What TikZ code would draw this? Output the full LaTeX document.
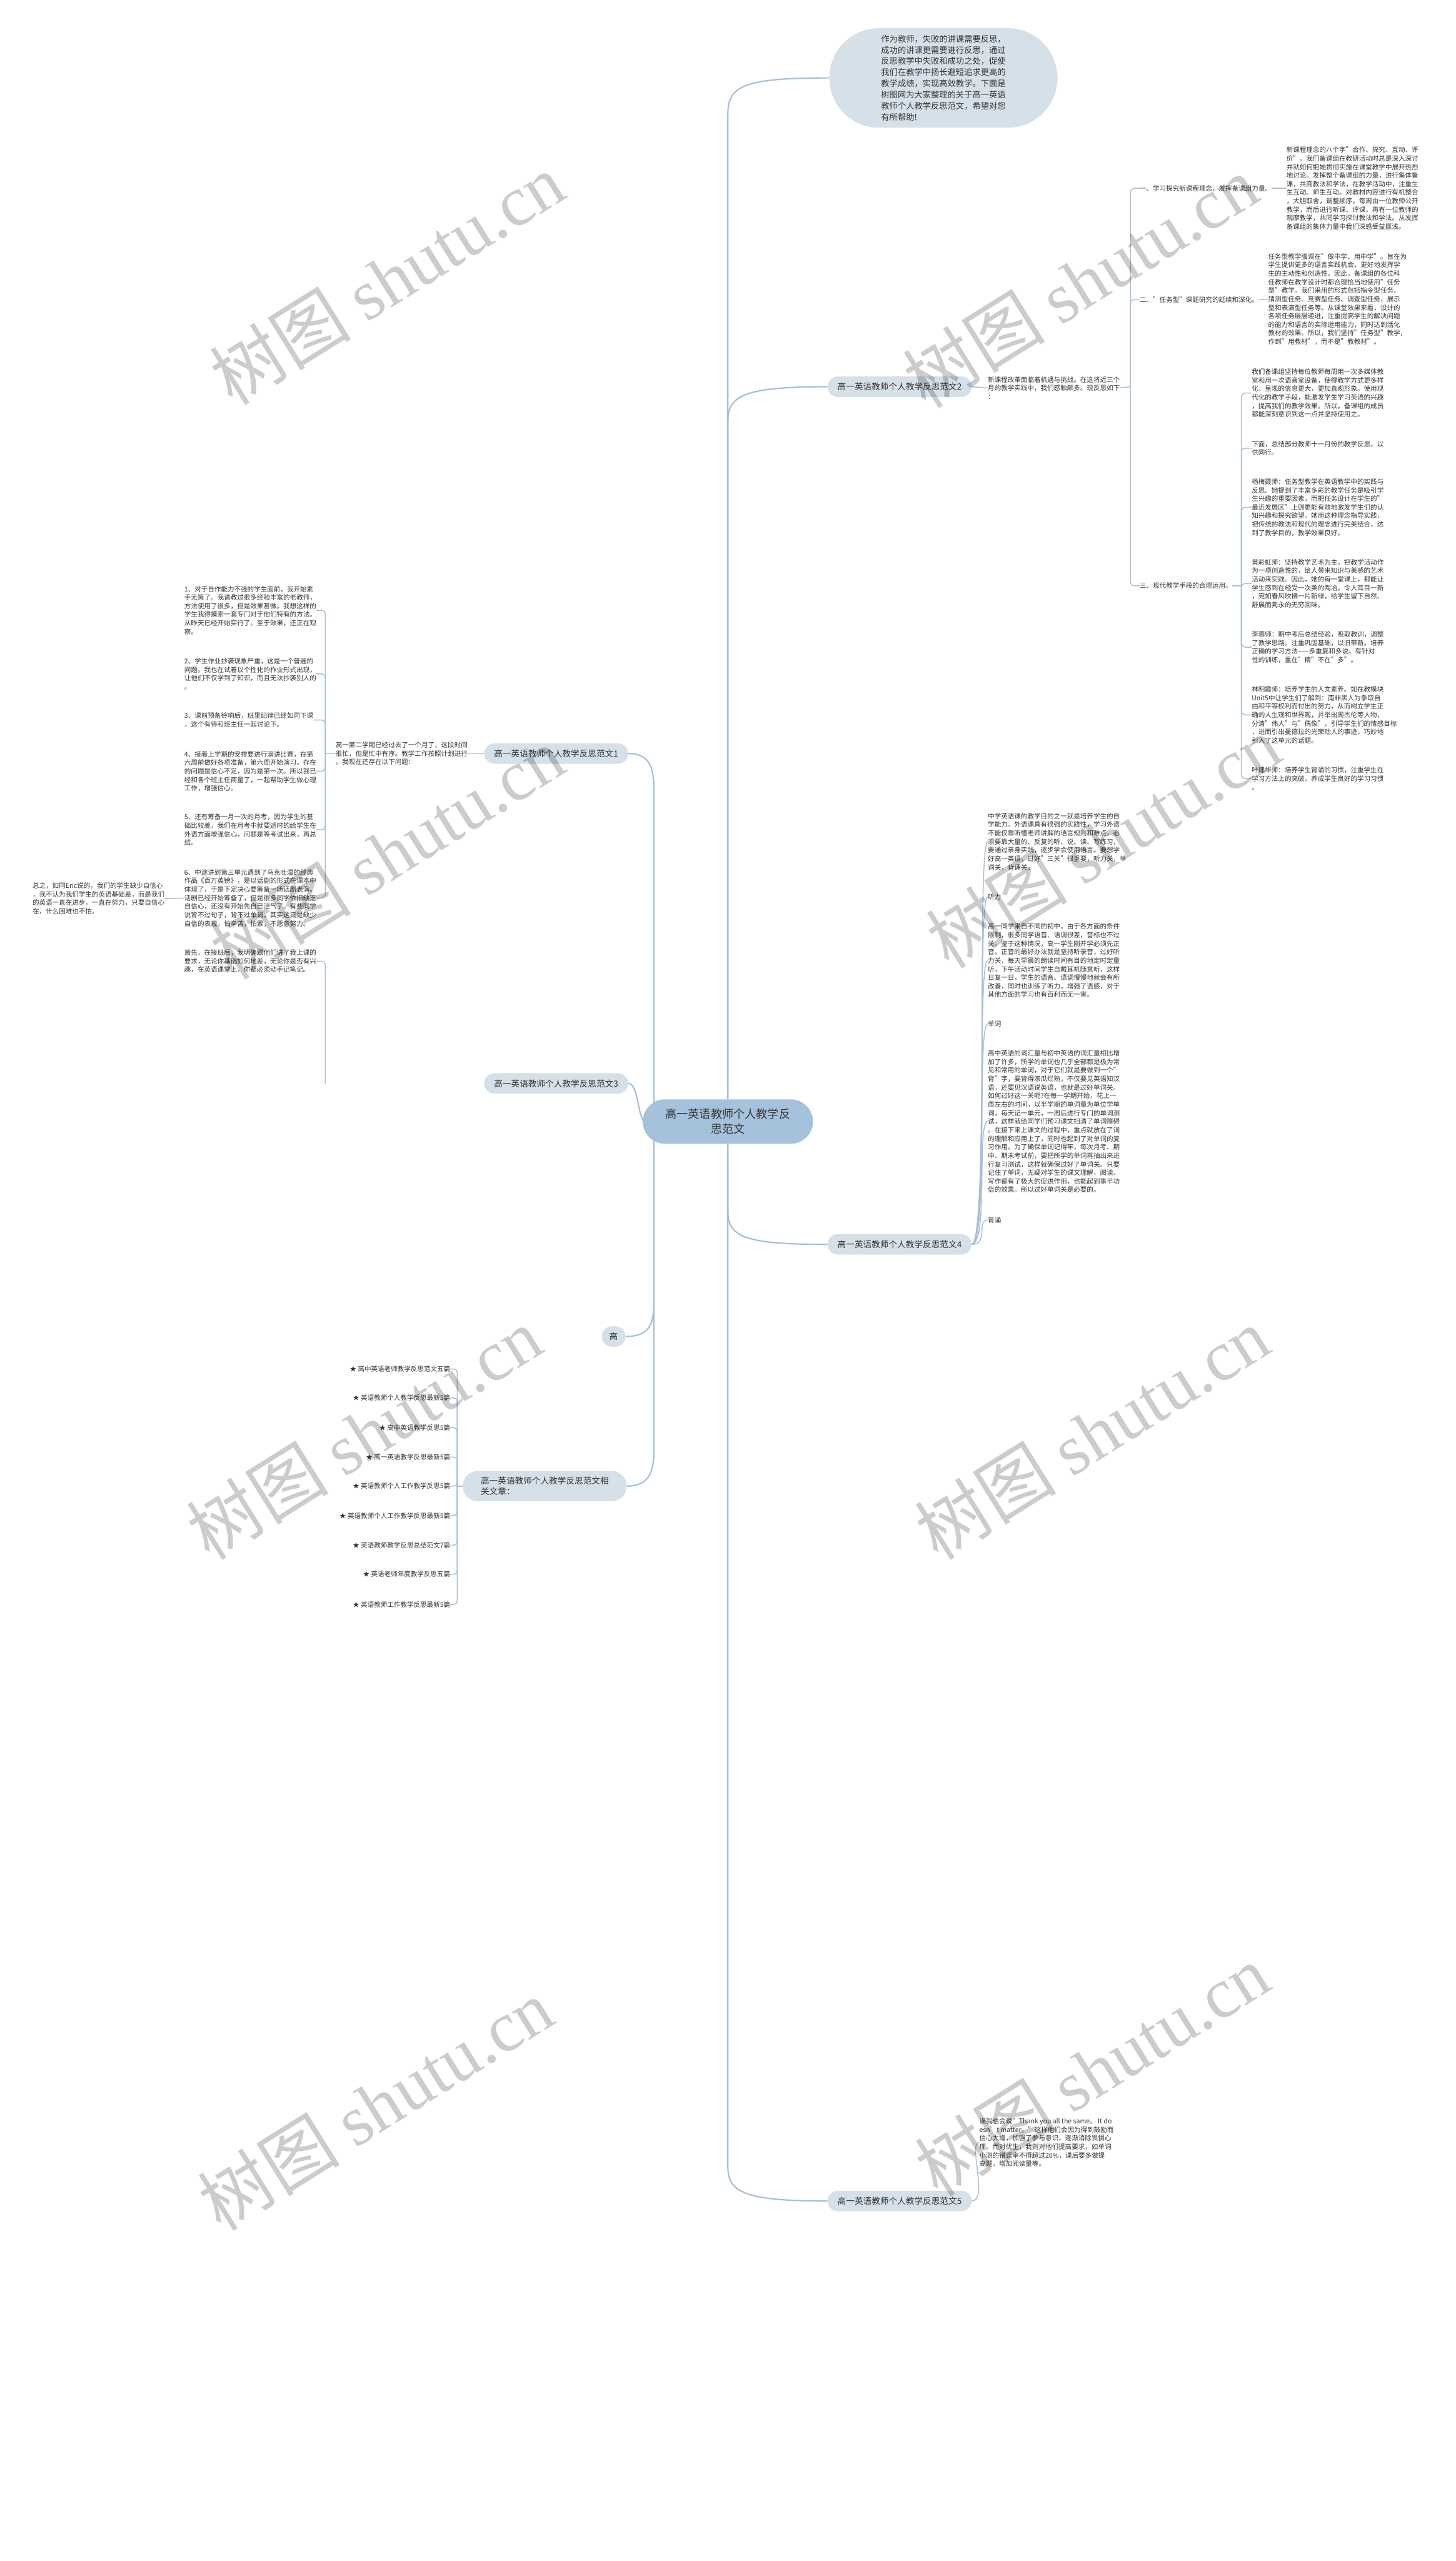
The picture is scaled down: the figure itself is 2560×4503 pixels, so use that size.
\documentclass[tikz,border=0pt]{standalone}
\usepackage{fontspec}
\setmainfont{Noto Sans CJK SC}
\newfontfamily\wmlat{Liberation Serif}
\usetikzlibrary{shapes.misc}
\definecolor{lnc}{HTML}{A7BFD5}
\definecolor{brf}{HTML}{D5E0E9}
\definecolor{ctf}{HTML}{A5C2DC}
\definecolor{txc}{HTML}{333333}
\tikzset{
  leaf/.style={inner sep=0pt, align=left, text=txc, font=\fontsize{11.6}{15}\selectfont},
  branch/.style={rounded rectangle, fill=brf, inner xsep=16pt, minimum height=36pt, text=txc, font=\fontsize{15}{18}\selectfont, align=left},
  conn/.style={draw=lnc, line width=1.6pt},
  connm/.style={draw=lnc, line width=2.4pt},
  wmark/.style={rotate=32, text=black, opacity=0.2, font=\fontsize{125}{125}\selectfont},
}
\newcommand\rbr[2]{\draw[conn,rounded corners=7pt] (#1) |- (#2.west);}
\newcommand\lbr[2]{\draw[conn,rounded corners=7pt] (#1) |- (#2.east);}
\newcommand\fanr[2]{\draw[conn] (#1.east) .. controls +(30,0) and +(-20,0) .. (#2.west);}
\begin{document}
\begin{tikzpicture}[x=1pt,y=-1pt]
\useasboundingbox[fill=white] (0,0) rectangle (2560,4503);

% ---------- centre ----------
\node[rounded rectangle, fill=ctf, minimum width=306pt, minimum height=78pt, align=center, font=\fontsize{20}{26}\selectfont, text=txc] (ct) at (1280,1972) {高一英语教师个人教学反\\思范文};

% ---------- intro ----------
\node[rounded rectangle, fill=brf, minimum width=408pt, minimum height=175pt, align=left, font=\fontsize{14.6}{19.6}\selectfont, text=txc] (intro) at (1659,137) {作为教师，失败的讲课需要反思，\\成功的讲课更需要进行反思，通过\\反思教学中失败和成功之处，促使\\我们在教学中扬长避短追求更高的\\教学成绩，实现高效教学。下面是\\树图网为大家整理的关于高一英语\\教师个人教学反思范文，希望对您\\有所帮助!};
\draw[connm] (ct.north) -- (1280,200) .. controls (1280,150) and (1310,137) .. (intro.west);

% ---------- branch 2 ----------
\node[branch] (b2) at (1582,680) {高一英语教师个人教学反思范文2};
\draw[connm] (ct.north) -- (1280,740) .. controls (1280,695) and (1310,680) .. (b2.west);
\node[leaf, anchor=west] (b2t) at (1737,682) {新课程改革面临着机遇与挑战。在这将近三个\\月的教学实践中，我们感触颇多。现反思如下\\：};
\draw[conn] (b2.east) -- (b2t.west);
\coordinate (k2) at (1988,680);
\draw[conn] (b2t.east) -- (k2);
\node[leaf, anchor=west] (s1) at (2004,331) {一、学习探究新课程理念，发挥备课组力量。};
\node[leaf, anchor=west] (s2) at (2004,527) {二、"任务型"课题研究的延续和深化。};
\node[leaf, anchor=west] (s3) at (2004,1030) {三、现代教学手段的合理运用。};
\rbr{k2}{s1}\rbr{k2}{s2}\rbr{k2}{s3}
\node[leaf, anchor=west] (s1a) at (2262,331) {新课程理念的八个字"合作、探究、互动、评\\价"。我们备课组在教研活动时总是深入深讨\\并就如何把她贯彻实施在课堂教学中展开热烈\\地讨论。发挥整个备课组的力量，进行集体备\\课，共商教法和学法，在教学活动中，注重生\\生互动、师生互动。对教材内容进行有机整合\\，大胆取舍，调整顺序。每周由一位教师公开\\教学，而后进行听课、评课，再有一位教师的\\观摩教学，共同学习探讨教法和学法。从发挥\\备课组的集体力量中我们深感受益匪浅。};
\draw[conn] (s1.east) -- (s1a.west);
\node[leaf, anchor=west] (s2a) at (2230,526) {任务型教学强调在"做中学、用中学"。旨在为\\学生提供更多的语言实践机会，更好地发挥学\\生的主动性和创造性。因此，备课组的各位科\\任教师在教学设计时都合理恰当地使用"任务\\型"教学。我们采用的形式包括指令型任务、\\猜测型任务、竞赛型任务、调查型任务、展示\\型和表演型任务等。从课堂效果来看，设计的\\各项任务层层递进，注重提高学生的解决问题\\的能力和语言的实际运用能力，同时达到活化\\教材的效果。所以，我们坚持"任务型"教学，\\作到"用教材"，而不是"教教材"。};
\draw[conn] (s2.east) -- (s2a.west);
\coordinate (k3) at (2183,1030);
\draw[conn] (s3.east) -- (k3);
\node[leaf, anchor=west] (t1) at (2201,691) {我们备课组坚持每位教师每周用一次多媒体教\\室和用一次语音室设备，使得教学方式更多样\\化，呈现的信息更大，更加直观形象。使用现\\代化的教学手段，能激发学生学习英语的兴趣\\，提高我们的教学效果。所以，备课组的成员\\都能深刻意识到这一点并坚持使用之。};
\node[leaf, anchor=west] (t2) at (2201,788) {下面，总结部分教师十一月份的教学反思，以\\供同行。};
\node[leaf, anchor=west] (t3) at (2201,892) {杨梅霞师：任务型教学在英语教学中的实践与\\反思。她提到了丰富多彩的教学任务是吸引学\\生兴趣的重要因素，而把任务设计在学生的"\\最近发展区"上则更能有效地激发学生们的认\\知兴趣和探究欲望。她用这种理念指导实践，\\把传统的教法和现代的理念进行完美结合，达\\到了教学目的，教学效果良好。};
\node[leaf, anchor=west] (t4) at (2201,1026) {黄彩虹师：坚持教学艺术为主，把教学活动作\\为一项创造性的，给人带来知识与美感的艺术\\活动来实践。因此，她的每一堂课上，都能让\\学生感到在经受一次美的陶冶，令人耳目一新\\，宛如春风吹拂一片新绿，给学生留下自然、\\舒展而隽永的无穷回味。};
\node[leaf, anchor=west] (t5) at (2201,1138) {李蓉师：期中考后总结经验，吸取教训，调整\\了教学思路。注重巩固基础，以旧带新。培养\\正确的学习方法——多重复和多说。有针对\\性的训练，重在"精"不在"多"。};
\node[leaf, anchor=west] (t6) at (2201,1257) {林明霞师：培养学生的人文素养。如在教模块\\Unit5中让学生们了解到：南非黑人为争取自\\由和平等权利而付出的努力，从而树立学生正\\确的人生观和世界观，并举出周杰伦等人物，\\分清"伟人"与"偶像"，引导学生们的情感目标\\，进而引出曼德拉的光荣动人的事迹，巧妙地\\引入了这单元的话题。};
\node[leaf, anchor=west] (t7) at (2201,1369) {叶建华师：培养学生背诵的习惯，注重学生在\\学习方法上的突破，养成学生良好的学习习惯\\。};
\rbr{k3}{t1}\rbr{k3}{t2}\rbr{k3}{t3}\rbr{k3}{t4}\rbr{k3}{t5}\rbr{k3}{t6}\rbr{k3}{t7}

% ---------- branch 4 ----------
\node[branch] (b4) at (1582,2188) {高一英语教师个人教学反思范文4};
\draw[connm] (ct.south) -- (1280,2130) .. controls (1280,2175) and (1310,2188) .. (b4.west);
\node[leaf, anchor=west] (u1) at (1737,1480) {中学英语课的教学目的之一就是培养学生的自\\学能力。外语课具有很强的实践性，学习外语\\不能仅靠听懂老师讲解的语言规则和难点，必\\须要靠大量的、反复的听、说、读、写练习，\\要通过亲身实践，逐步学会使用语言。要想学\\好高一英语，过好"三关"很重要，听力关，单\\词关，背诵关。};
\node[leaf, anchor=west] (u2) at (1737,1577) {听力};
\node[leaf, anchor=west] (u3) at (1737,1689) {高一同学来自不同的初中，由于各方面的条件\\限制，很多同学语音、语调很差，音标也不过\\关。鉴于这种情况，高一学生刚开学必须先正\\音。正音的最好办法就是坚持听录音，过好听\\力关，每天早晨的朗读时间有目的地定时定量\\听，下午活动时间学生自戴耳机随意听，这样\\日复一日，学生的语音、语调慢慢地就会有所\\改善，同时也训练了听力，增强了语感，对于\\其他方面的学习也有百利而无一害。};
\node[leaf, anchor=west] (u4) at (1737,1800) {单词};
\node[leaf, anchor=west] (u5) at (1737,1972) {高中英语的词汇量与初中英语的词汇量相比增\\加了许多，所学的单词也几乎全部都是极为常\\见和常用的单词，对于它们就是要做到一个"\\背"字，要背得滚瓜烂熟，不仅要见英语知汉\\语，还要见汉语说英语，也就是过好单词关。\\如何过好这一关呢?在每一学期开始，花上一\\周左右的时间，以半学期的单词量为单位学单\\词，每天记一单元，一周后进行专门的单词测\\试，这样就给同学们预习课文扫清了单词障碍\\。在接下来上课文的过程中，重点就放在了词\\的理解和应用上了，同时也起到了对单词的复\\习作用。为了确保单词记得牢，每次月考、期\\中、期末考试前，要把所学的单词再抽出来进\\行复习测试，这样就确保过好了单词关。只要\\记住了单词，无疑对学生的课文理解、阅读、\\写作都有了极大的促进作用，也能起到事半功\\倍的效果。所以过好单词关是必要的。};
\node[leaf, anchor=west] (u6) at (1737,2145) {背诵};
\fanr{b4}{u1}\fanr{b4}{u2}\fanr{b4}{u3}\fanr{b4}{u4}\fanr{b4}{u5}\fanr{b4}{u6}

% ---------- branch 5 ----------
\node[branch] (b5) at (1582,3870) {高一英语教师个人教学反思范文5};
\draw[connm] (ct.south) -- (1280,3810) .. controls (1280,3855) and (1310,3870) .. (b5.west);
\node[leaf, anchor=north west] (v1) at (1722,3724) {误我也会说"Thank you all the same。 It do\\esn’t matter。"这样他们会因为得到鼓励而\\信心大增，加强了参与意识，逐渐消除畏惧心\\理。而对优生，我则对他们提高要求，如单词\\小测的错误率不得超过20\%，课后要多做提\\高题，增加阅读量等。};
\fanr{b5}{v1}

% ---------- branch 1 (left) ----------
\node[branch] (b1) at (978,1325) {高一英语教师个人教学反思范文1};
\draw[connm] (b1.east) .. controls (1140,1325) and (1150,1345) .. (1150,1390) -- (1150,1945);
\node[leaf, anchor=west] (b1t) at (590,1325) {高一第二学期已经过去了一个月了，这段时间\\很忙，但是忙中有序。教学工作按照计划进行\\。我现在还存在以下问题：};
\draw[conn] (b1.west) -- (b1t.east);
\coordinate (k1) at (572,1325);
\draw[conn] (b1t.west) -- (k1);
\node[leaf, anchor=west] (p1) at (324,1073) {1、对于自作能力不强的学生面前，我开始素\\手无策了。我请教过很多经验丰富的老教师，\\方法使用了很多，但是效果甚微。我想这样的\\学生我得摸索一套专门对于他们特有的方法。\\从昨天已经开始实行了。至于效果，还正在观\\察。};
\node[leaf, anchor=west] (p2) at (324,1185) {2、学生作业抄袭现象严重，这是一个普遍的\\问题。我也在试着以个性化的作业形式出现，\\让他们不仅学到了知识，而且无法抄袭别人的\\。};
\node[leaf, anchor=west] (p3) at (324,1266) {3、课前预备铃响后，班里纪律已经如同下课\\，这个有待和班主任一起讨论下。};
\node[leaf, anchor=west] (p4) at (324,1356) {4、接着上学期的安排要进行演讲比赛，在第\\六周前做好各项准备，第六周开始演习。存在\\的问题是信心不足，因为是第一次。所以我已\\经和各个班主任商量了，一起帮助学生做心理\\工作，增强信心。};
\node[leaf, anchor=west] (p5) at (324,1459) {5、还有筹备一月一次的月考，因为学生的基\\础比较差，我们在月考中就要适时的给学生在\\外语方面增强信心，问题是等考试出来，再总\\结。};
\node[leaf, anchor=west] (p6) at (324,1579) {6、中途讲到第三单元遇到了马克吐温的经典\\作品《百万英镑》，是以话剧的形式在课本中\\体现了，于是下定决心要筹备一场话剧表演。\\话剧已经开始筹备了，但是很多同学依旧缺乏\\自信心，还没有开始先自己泄气了。有些同学\\说背不过句子，背不过单词，其实这只是缺少\\自信的表现，怕辛苦，怕累，不愿意努力。};
\lbr{k1}{p1}\lbr{k1}{p2}\lbr{k1}{p3}\lbr{k1}{p4}\lbr{k1}{p5}\lbr{k1}{p6}
\node[leaf, anchor=west] (p6a) at (57,1580) {总之，如同Eric说的，我们的学生缺少自信心\\，我不认为我们学生的英语基础差，而是我们\\的英语一直在进步，一直在努力，只要自信心\\在，什么困难也不怕。};
\draw[conn] (p6.west) -- (p6a.east);

% ---------- branch 3 (left) ----------
\node[branch] (b3) at (978,1905) {高一英语教师个人教学反思范文3};
\draw[connm] (b3.east) .. controls (1125,1905) and (1120,1978) .. (1140,1978);
\coordinate (k3l) at (572,1905);
\node[leaf, anchor=west] (q1) at (324,1690) {首先，在接班后，我明确跟他们讲了我上课的\\要求，无论你基础如何地差，无论你是否有兴\\趣，在英语课堂上，你都必须动手记笔记。};
\lbr{k3l}{q1}

% ---------- small node + related ----------
\node[branch, inner xsep=12pt] (gao) at (1079,2350) {高};
\draw[connm] (gao.east) .. controls (1140,2350) and (1150,2330) .. (1150,2290) -- (1150,2000);

\node[rounded rectangle, fill=brf, align=left, inner xsep=26pt, minimum height=53pt, text=txc, font=\fontsize{15}{19}\selectfont] (rel) at (958,2613) {高一英语教师个人教学反思范文相\\关文章：};
\draw[connm] (rel.east) .. controls (1140,2613) and (1150,2590) .. (1150,2550) -- (1150,2000);
\coordinate (kr) at (804,2613);
\draw[conn] (rel.west) -- (kr);
\foreach \i/\yy/\tt in {1/2407/高中英语老师教学反思范文五篇, 2/2458/英语教师个人教学反思最新5篇, 3/2510/高中英语教学反思5篇, 4/2562/高一英语教学反思最新5篇, 5/2613/英语教师个人工作教学反思5篇, 6/2665/英语教师个人工作教学反思最新5篇, 7/2717/英语教师教学反思总结范文7篇, 8/2768/英语老师年度教学反思五篇, 9/2821/英语教师工作教学反思最新5篇}{
  \node[leaf, anchor=east] (r\i) at (792,\yy) {★ \tt};
  \draw[conn, rounded corners=6pt] (kr) |- (r\i.east);
}

% ---------- watermarks ----------
\foreach \wx/\wy in {680/490, 680/1500, 640/2520, 660/3700, 1900/495, 1940/1480, 1920/2520, 1920/3640}{
  \node[wmark] at (\wx,\wy) {树图 {\wmlat shutu.cn}};
}
\end{tikzpicture}
\end{document}
